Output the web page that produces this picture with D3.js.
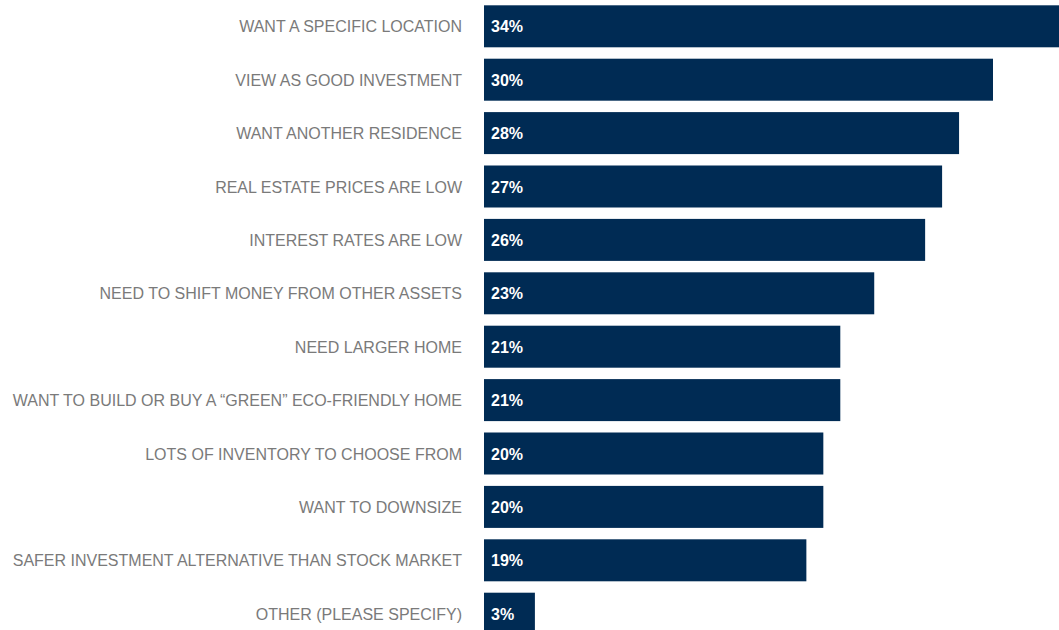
<!DOCTYPE html>
<html><head><meta charset="utf-8">
<script src="https://cdn.jsdelivr.net/npm/d3@7"></script>
<style>body{margin:0;background:#fff}svg{display:block}</style>
</head><body>
<svg id="c" width="1059" height="630"></svg>
<script>
const categories = [
  "WANT A SPECIFIC LOCATION",
  "VIEW AS GOOD INVESTMENT",
  "WANT ANOTHER RESIDENCE",
  "REAL ESTATE PRICES ARE LOW",
  "INTEREST RATES ARE LOW",
  "NEED TO SHIFT MONEY FROM OTHER ASSETS",
  "NEED LARGER HOME",
  "WANT TO BUILD OR BUY A \u201CGREEN\u201D ECO-FRIENDLY HOME",
  "LOTS OF INVENTORY TO CHOOSE FROM",
  "WANT TO DOWNSIZE",
  "SAFER INVESTMENT ALTERNATIVE THAN STOCK MARKET",
  "OTHER (PLEASE SPECIFY)"
];
const values = [34, 30, 28, 27, 26, 23, 21, 21, 20, 20, 19, 3];

const svg = d3.select("#c");
const x = d3.scaleLinear().domain([0, 30]).range([484, 993]);
const y = d3.scaleBand().domain(categories).range([5.3, 634.7]).paddingInner(0.2135).paddingOuter(0);

const g = svg.append("g");
g.selectAll("rect").data(values).join("rect")
  .attr("x", x(0))
  .attr("y", (d, i) => y(categories[i]))
  .attr("width", d => x(d) - x(0))
  .attr("height", y.bandwidth())
  .attr("fill", "#002b54");

g.selectAll("text.cat").data(categories).join("text")
  .attr("class", "cat")
  .attr("x", 462)
  .attr("y", d => y(d) + y.bandwidth() / 2 + 0.5)
  .attr("dy", "0.35em")
  .attr("text-anchor", "end")
  .attr("font-family", "Liberation Sans, Arial, sans-serif")
  .attr("font-size", 16)
  .attr("fill", "#7a7a7a")
  .text(d => d);

g.selectAll("text.val").data(values).join("text")
  .attr("class", "val")
  .attr("x", x(0) + 7)
  .attr("y", (d, i) => y(categories[i]) + y.bandwidth() / 2 + 0.5)
  .attr("dy", "0.35em")
  .attr("font-family", "Liberation Sans, Arial, sans-serif")
  .attr("font-size", 16)
  .attr("font-weight", "bold")
  .attr("fill", "#ffffff")
  .text(d => d + "%");
</script>
</body></html>
